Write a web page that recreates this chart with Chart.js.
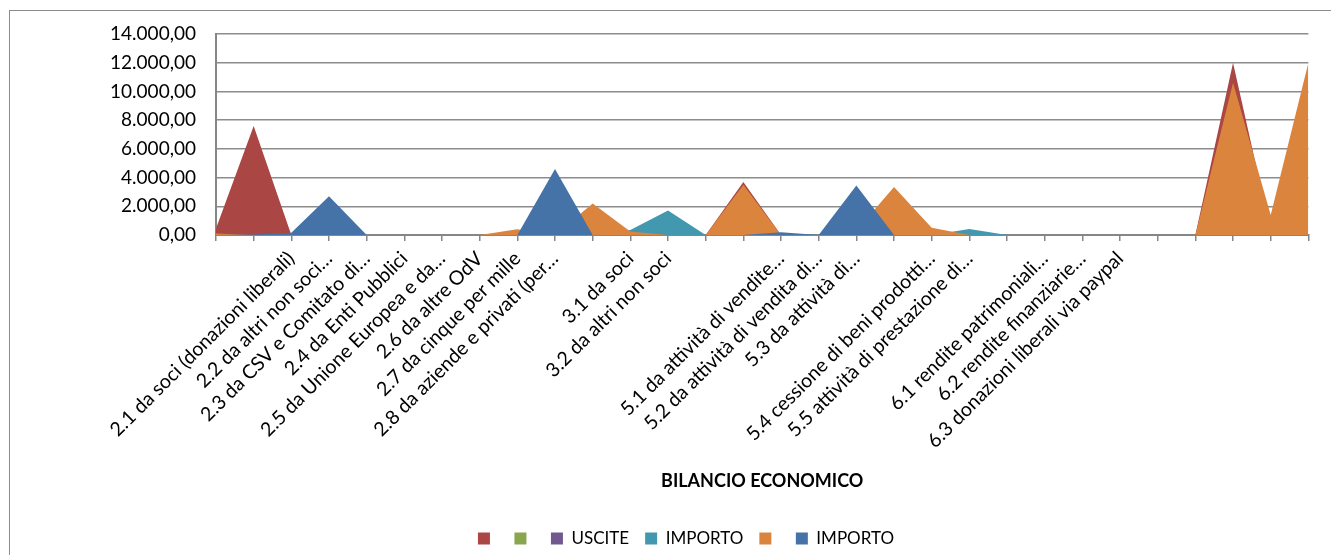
<!DOCTYPE html>
<html>
<head>
<meta charset="utf-8">
<script src="https://cdn.jsdelivr.net/npm/chart.js@4"></script>
<style>
  html, body { margin: 0; padding: 0; background: #fff; overflow: hidden; }
  #frame { position: absolute; left: 9px; top: 10px; width: 1400px; height: 700px; border: 1px solid #8c8c8c; }
  #wrap { position: absolute; left: 0; top: 0; width: 1331px; height: 555px; }
</style>
</head>
<body>
<div id="frame"></div>
<div id="wrap"><canvas id="bilancio" width="1331" height="555"></canvas></div>
<script>
// voci del bilancio (asse delle categorie)
const categories = [
  "", "",
  "2.1 da soci (donazioni liberali)",
  "2.2 da altri non soci…",
  "2.3 da CSV e Comitato di…",
  "2.4 da Enti Pubblici",
  "2.5 da Unione Europea e da…",
  "2.6 da altre OdV",
  "2.7 da cinque per mille",
  "2.8 da aziende e privati (per…",
  "",
  "3.1 da soci",
  "3.2 da altri non soci",
  "", "",
  "5.1 da attività di vendite…",
  "5.2 da attività di vendita di…",
  "5.3 da attività di…",
  "",
  "5.4 cessione di beni prodotti…",
  "5.5 attività di prestazione di…",
  "",
  "6.1 rendite patrimoniali…",
  "6.2 rendite finanziarie…",
  "6.3 donazioni liberali via paypal",
  "", "", "", "", ""
];

// serie
const redValues    = [460, 7600, 0, 0, 0, 0, 0, 0, 0, 0, 0, 0, 0, 0, 3700, 0, 0, 0, 0, 0, 0, 0, 0, 0, 0, 0, 0, 12000, 300, 0];
const greenValues  = [0, 0, 0, 0, 0, 0, 0, 0, 0, 0, 0, 0, 0, 0, 0, 0, 0, 0, 0, 0, 0, 0, 0, 0, 0, 0, 0, 0, 0, 0];
const usciteValues = [0, 0, 0, 0, 0, 0, 0, 0, 0, 0, 0, 0, 0, 0, 0, 0, 0, 0, 0, 0, 0, 0, 0, 0, 0, 0, 0, 0, 0, 0];
const importoTeal  = [0, 0, 0, 0, 0, 0, 0, 0, 0, 0, 0, 350, 1700, 0, 0, 0, 0, 0, 0, 0, 420, 0, 0, 0, 0, 0, 0, 0, 0, 0];
const orangeValues = [100, 0, 0, 0, 0, 0, 0, 0, 400, 0, 2200, 250, 0, 0, 3500, 0, 0, 300, 3350, 500, 0, 0, 0, 0, 0, 0, 0, 10600, 1400, 12000];
const importoBlue  = [0, 30, 160, 2700, 0, 0, 0, 0, 0, 4600, 0, 0, 0, 0, 0, 190, 0, 3450, 0, 0, 0, 0, 0, 0, 0, 0, 0, 0, 0, 0];

const yTicks = [0, 2000, 4000, 6000, 8000, 10000, 12000, 14000];

const FONT = "Lato, 'Open Sans', sans-serif";

function fmtIt(v) {
  const parts = v.toFixed(2).split(".");
  parts[0] = parts[0].replace(/\B(?=(\d{3})+(?!\d))/g, ".");
  return parts[0] + "," + parts[1];
}

function area(label, data, color, order) {
  return {
    label: label,
    data: data,
    backgroundColor: color,
    borderColor: color,
    borderWidth: 0,
    pointRadius: 0,
    pointHoverRadius: 0,
    tension: 0,
    fill: "origin",
    order: order
  };
}

// la legenda di Excel e' centrata un po' piu' a destra
const legendShift = {
  id: "legendShift",
  afterLayout(chart) {
    const lg = chart.legend;
    if (lg) { lg.left += 30; lg.right += 30; }
  }
};

const ctx = document.getElementById("bilancio");
const chart = new Chart(ctx, {
  type: "line",
  data: {
    labels: categories,
    datasets: [
      area("", redValues, "#AA4643", 5),
      area("", greenValues, "#89A54E", 4),
      area("USCITE", usciteValues, "#71588F", 3),
      area("IMPORTO", importoTeal, "#4198AF", 2),
      area("", orangeValues, "#DB843D", 1),
      area("IMPORTO", importoBlue, "#4572A7", 0)
    ]
  },
  plugins: [legendShift],
  options: {
    responsive: false,
    animation: false,
    layout: { padding: { top: 34, right: 19, bottom: -2, left: 0 } },
    plugins: {
      tooltip: { enabled: false },
      legend: {
        position: "bottom",
        labels: {
          boxWidth: 12,
          boxHeight: 12,
          padding: 16,
          color: "#000",
          font: { family: FONT, size: 17 },
          sort: (a, b) => a.datasetIndex - b.datasetIndex
        }
      }
    },
    scales: {
      x: {
        type: "category",
        offset: false,
        afterFit: (s) => { s.height = 279; },
        grid: {
          display: true,
          drawOnChartArea: false,
          drawTicks: true,
          tickLength: 6,
          color: "#868686",
          lineWidth: 1.5
        },
        border: { display: true, color: "#868686", width: 2 },
        ticks: {
          autoSkip: false,
          maxRotation: 45,
          minRotation: 45,
          padding: 6,
          color: "#000",
          font: { family: FONT, size: 19.6 }
        },
        title: {
          display: true,
          text: "BILANCIO ECONOMICO",
          color: "#000",
          padding: { top: 4, bottom: 22 },
          font: { family: FONT, size: 18, weight: "bold" }
        }
      },
      y: {
        min: 0,
        max: 14000,
        afterFit: (s) => { s.width = 216; },
        afterBuildTicks: (s) => { s.ticks = yTicks.map(v => ({ value: v })); },
        grid: {
          color: "#8c8c8c",
          lineWidth: 1.4,
          drawTicks: false
        },
        border: { display: true, color: "#868686", width: 2 },
        ticks: {
          padding: 20,
          color: "#000",
          font: { family: FONT, size: 19 },
          callback: (v) => fmtIt(v)
        }
      }
    }
  }
});
</script>
</body>
</html>
